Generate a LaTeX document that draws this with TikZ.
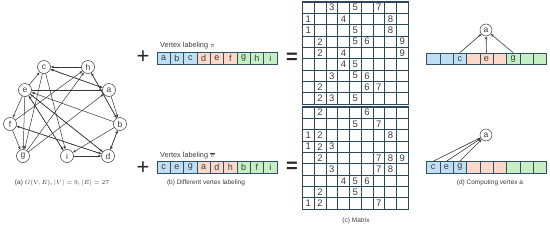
\documentclass[tikz,border=0pt]{standalone}
\usepackage{fontspec}
\setmainfont{Liberation Sans}
\usetikzlibrary{arrows.meta}
\definecolor{cellblue}{RGB}{190,224,242}
\definecolor{cellpink}{RGB}{251,216,200}
\definecolor{cellgreen}{RGB}{198,239,194}
\definecolor{cellline}{RGB}{47,80,104}
\definecolor{matline}{RGB}{45,72,92}
\definecolor{graphline}{RGB}{55,55,55}
\definecolor{txt}{RGB}{60,60,60}
\begin{document}
\begin{tikzpicture}[x=1pt,y=-1pt,
  vert/.style={circle,draw=graphline,line width=0.5pt,minimum size=13pt,inner sep=0pt,font=\fontsize{8.5}{9}\selectfont,text=txt},
  edge/.style={draw=graphline,line width=0.5pt,-{Stealth[length=3.2pt,width=2.6pt]},shorten >=0.2pt},
  cell/.style={draw=cellline,line width=0.6pt,minimum width=13.33pt,minimum height=11.5pt,inner sep=0pt,font=\fontsize{9}{9}\selectfont,text=txt},
  bl/.style={cell,fill=cellblue},
  pk/.style={cell,fill=cellpink},
  gr/.style={cell,fill=cellgreen},
  digit/.style={inner sep=0pt,font=\fontsize{9.5}{10}\selectfont,text=txt},
  caption/.style={inner sep=0pt,font=\fontsize{6.5}{7}\selectfont,text=txt},
  lbl/.style={inner sep=0pt,anchor=west,font=\fontsize{7.3}{8}\selectfont,text=txt},
  plussym/.style={inner sep=0pt,font=\fontsize{22}{22}\selectfont,text=black!85},
  eqsym/.style={inner sep=0pt,font=\fontsize{20}{20}\selectfont\bfseries,text=black!85},
  mgrid/.style={draw=matline,line width=0.7pt},
  mborder/.style={draw=matline,line width=1.1pt},
  darrow/.style={draw=graphline,line width=0.6pt,-{Stealth[length=3.2pt,width=2.6pt]}}
]
\useasboundingbox (0,0) rectangle (550,231);

% ---------- (a) graph ----------
\node[vert] (c) at (44,67) {c};
\node[vert] (h) at (88,67) {h};
\node[vert] (e) at (25,90) {e};
\node[vert] (a) at (109,90) {a};
\node[vert] (f) at (10,124) {f};
\node[vert] (b) at (120,124) {b};
\node[vert] (g) at (23,156) {g};
\node[vert] (i) at (67,156) {i};
\node[vert] (d) at (108,156) {d};
\foreach \s/\t in {c/a,e/a,g/a, a/b,d/b,h/b, a/c,e/c,h/c, b/d,e/d,f/d,i/d,
                   b/e,d/e,i/e, d/f,e/f, c/g,e/g,f/g, b/h,f/h,g/h, b/i,c/i,e/i}
  \draw[edge] (\s) -- (\t);
\node[caption] (capa) at (62,183) {(a) $G(V,E)$, $|V|=9$, $|E|=27$};

% ---------- (b) labelings ----------
\node[plussym] (plus1) at (143,57) {+};
\node[plussym] (plus2) at (143,168) {+};
\node[lbl] (lab1) at (160,46) {Vertex labeling $\pi$};
\node[lbl] (lab2) at (160,155.5) {Vertex labeling $\overline{\pi}$};
\foreach \k/\l/\st in {1/a/bl,2/b/bl,3/c/bl,4/d/pk,5/e/pk,6/f/pk,7/g/gr,8/h/gr,9/i/gr}
  \node[\st] (p\k) at ({157+(\k-0.5)*13.33},58.5) {\l};
\foreach \k/\l/\st in {1/c/bl,2/e/bl,3/g/bl,4/a/pk,5/d/pk,6/h/pk,7/b/gr,8/f/gr,9/i/gr}
  \node[\st] (q\k) at ({157+(\k-0.5)*13.33},167.5) {\l};
\node[caption] (capb) at (206,183) {(b) Different vertex labeling};

\node[eqsym] (eq1) at (292,58) {=};
\node[eqsym] (eq2) at (292,167) {=};

% ---------- (c) matrices ----------
\foreach \Y in {2,107} {
  \foreach \n in {1,...,8} {
    \draw[mgrid] ({302.5+\n*11.75},\Y) -- ++(0,102.15);
    \draw[mgrid] (302.5,{\Y+\n*11.35}) -- ++(105.75,0);
  }
  \draw[mborder] (302.5,\Y) rectangle ++(105.75,102.15);
}
\foreach \r/\c in {1/3,1/5,1/7, 2/1,2/4,2/8, 3/1,3/5,3/8, 4/2,4/5,4/6,4/9,
                   5/2,5/4,5/9, 6/4,6/5, 7/3,7/5,7/6, 8/2,8/6,8/7, 9/2,9/3,9/5}
  \node[digit] (mA-\r-\c) at ({302.5+(\c-0.5)*11.75},{2+(\r-0.5)*11.35}) {\c};
\foreach \r/\c in {1/2,1/6, 2/5,2/7, 3/1,3/2,3/8, 4/1,4/2,4/3, 5/2,5/7,5/8,5/9,
                   6/3,6/7,6/8, 7/4,7/5,7/6, 8/2,8/5, 9/1,9/2,9/7}
  \node[digit] (mB-\r-\c) at ({302.5+(\c-0.5)*11.75},{107+(\r-0.5)*11.35}) {\c};
\node[caption] (capc) at (356,221) {(c) Matrix};

% ---------- (d) computing vertex a ----------
\foreach \k/\l/\st in {1//bl,2//bl,3/c/bl,4//pk,5/e/pk,6//pk,7/g/gr,8//gr,9//gr}
  \node[\st] (r\k) at ({426.5+(\k-0.5)*13.33},58.7) {\l};
\node[vert,minimum size=12pt] (a1) at (486,30) {a};
\foreach \k in {3,5,7} \draw[darrow] (r\k.north) -- (a1);
\foreach \k/\l/\st in {1/c/bl,2/e/bl,3/g/bl,4//pk,5//pk,6//pk,7//gr,8//gr,9//gr}
  \node[\st] (s\k) at ({426.5+(\k-0.5)*13.33},167.3) {\l};
\node[vert,minimum size=12pt] (a2) at (486,135) {a};
\foreach \k in {1,2,3} \draw[darrow] (s\k.north) -- (a2);
\node[caption] (capd) at (490,183) {(d) Computing vertex a};
\end{tikzpicture}
\end{document}
